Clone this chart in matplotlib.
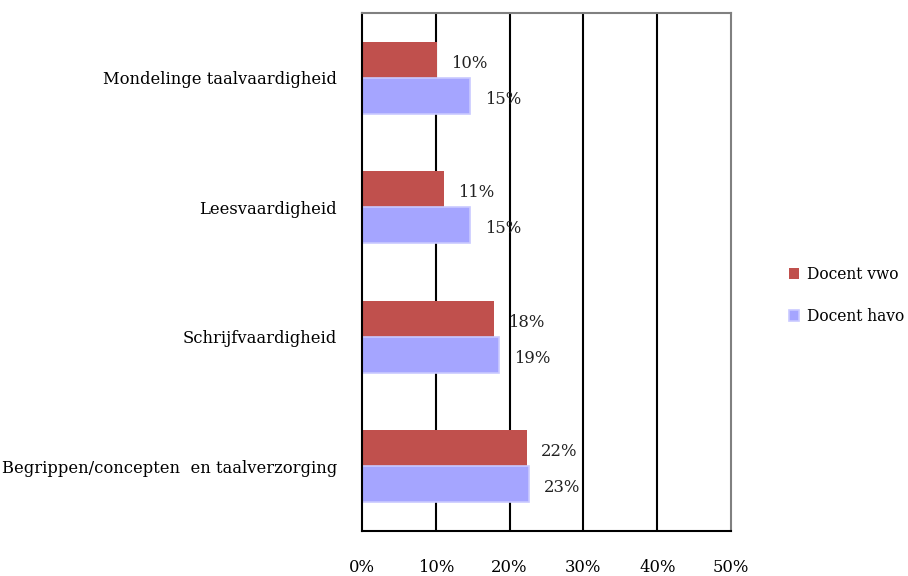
import numpy as np
import matplotlib.pyplot as plt

# categorieën van boven naar beneden
categories = [
    "Mondelinge taalvaardigheid",
    "Leesvaardigheid",
    "Schrijfvaardigheid",
    "Begrippen/concepten  en taalverzorging",
]
vwo = [10.2, 11.1, 17.9, 22.4]
havo = [14.6, 14.6, 18.5, 22.6]
vwo_labels = ["10%", "11%", "18%", "22%"]
havo_labels = ["15%", "15%", "19%", "23%"]
xticks = [0, 10, 20, 30, 40, 50]

plt.rcParams['font.family'] = ['DejaVu Serif']
fs = 11.8

fig = plt.figure(figsize=(9.08, 5.76), dpi=100)
ax = fig.add_axes([0.3987, 0.0781, 0.4064, 0.8993])

y = np.arange(len(categories))
h = 0.278

bars_vwo = ax.barh(y - h / 2, vwo, height=h, color='#C0504D', zorder=2, label='Docent vwo')
bars_havo = ax.barh(y + h / 2, havo, height=h, color='#A5A5FF', edgecolor='#C9C9FF',
                    linewidth=1.2, zorder=2, label='Docent havo')

for b, lab in zip(bars_vwo, vwo_labels):
    ax.annotate(lab, (b.get_width(), b.get_y() + b.get_height() / 2),
                xytext=(10, -2.5), textcoords='offset points', ha='left', va='center',
                fontsize=fs, color='#222222')
for b, lab in zip(bars_havo, havo_labels):
    ax.annotate(lab, (b.get_width(), b.get_y() + b.get_height() / 2),
                xytext=(11, -2.5), textcoords='offset points', ha='left', va='center',
                fontsize=fs, color='#222222')

ax.set_xlim(0, 50)
ax.set_ylim(len(categories) - 0.5, -0.5)
ax.set_xticks(xticks)
ax.set_xticklabels([f"{t}%" for t in xticks], fontsize=fs)
ax.set_yticks(y)
ax.set_yticklabels(categories, fontsize=fs)
ax.tick_params(axis='x', length=0, pad=20)
ax.tick_params(axis='y', length=0, pad=18)

for t in xticks[1:-1]:
    ax.axvline(t, color='black', lw=1.5, zorder=1)

ax.spines['left'].set_color('black')
ax.spines['bottom'].set_color('black')
ax.spines['left'].set_linewidth(1.5)
ax.spines['bottom'].set_linewidth(1.5)
ax.spines['top'].set_color('#808080')
ax.spines['right'].set_color('#808080')
ax.spines['top'].set_linewidth(1.5)
ax.spines['right'].set_linewidth(1.5)

fig.legend(loc='center left', bbox_to_anchor=(0.853, 0.487), frameon=False,
           fontsize=11.2, handlelength=0.7, handleheight=0.7, handletextpad=0.5,
           labelspacing=1.6)

fig.savefig('out.png', dpi=100)
